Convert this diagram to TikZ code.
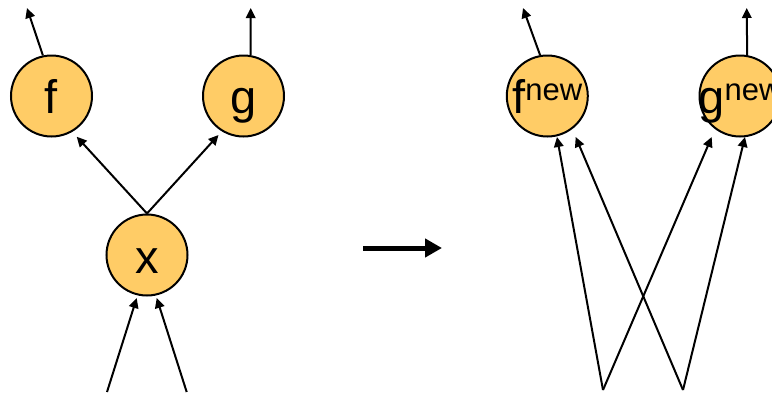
\documentclass[tikz,border=0pt]{standalone}
\usepackage{fontspec}
\setmainfont{Liberation Sans}
\usetikzlibrary{arrows.meta,calc}
\definecolor{nodefill}{HTML}{FFCC66}
\tikzset{
  var/.style={circle,draw=black,line width=2pt,fill=nodefill,minimum size=81pt,inner sep=0pt},
  lbl/.style={anchor=base,inner sep=0pt,font=\fontsize{47}{47}\selectfont},
  edge/.style={line width=2pt,-{Triangle[length=10pt,width=9.5pt]}},
  bigarrow/.style={line width=5pt,-{Triangle[length=17pt,width=18pt]}}
}
\newcommand{\supnew}{{\fontsize{31}{31}\selectfont\raisebox{13pt}{new}}}
\begin{document}
\begin{tikzpicture}[x=1pt,y=-1pt]
  \useasboundingbox (0,0) rectangle (772,394);
  \clip (0,0) rectangle (772,394);

  % left graph: x feeds f and g
  \node[var] (f) at (51.5,96) {};
  \node[var] (g) at (243.5,96) {};
  \node[var] (x) at (147,255) {};
  \node[lbl] (ft) at ($(f)+(0,17)$) {f};
  \node[lbl] (gt) at ($(g)+(0,17)$) {g};
  \node[lbl] (xt) at ($(x)+(0,18)$) {x};

  \coordinate (fout) at (27,8);
  \coordinate (gout) at (250.7,8);
  \coordinate (xin1) at (107,392);
  \coordinate (xin2) at (186.7,392);

  \draw[edge] (f.102) -- (fout);
  \draw[edge] (g.80) -- (gout);
  \draw[edge] (x.north) -- ($(f)+(25.2,40.7)$);
  \draw[edge] (x.north) -- ($(g)+(-25,39)$);
  \draw[edge] (xin1) -- ($(x)+(-10.3,43)$);
  \draw[edge] (xin2) -- ($(x)+(9.7,43)$);

  % transformation arrow
  \coordinate (ta) at (363,248);
  \coordinate (tb) at (442,248);
  \draw[bigarrow] (ta) -- (tb);

  % right graph: inputs routed directly to fnew and gnew
  \node[var] (fn) at (547.3,96) {};
  \node[var] (gn) at (740,96) {};
  \node[lbl] (fnt) at ($(fn)+(0,17)$) {f\supnew};
  \node[lbl] (gnt) at ($(gn)+(0,17)$) {g\supnew};

  \coordinate (fnout) at (523,8);
  \coordinate (gnout) at (746.7,8);
  \coordinate (in1) at (603,390);
  \coordinate (in2) at (683,390);

  \draw[edge] (fn.100) -- (fnout);
  \draw[edge] (gn.80) -- (gnout);
  \draw[edge] (in1) -- ($(fn)+(9.7,41)$);
  \draw[edge] (in1) -- ($(gn)+(-28.3,41)$);
  \draw[edge] (in2) -- ($(fn)+(28.4,41)$);
  \draw[edge] (in2) -- ($(gn)+(5,41)$);
\end{tikzpicture}
\end{document}
